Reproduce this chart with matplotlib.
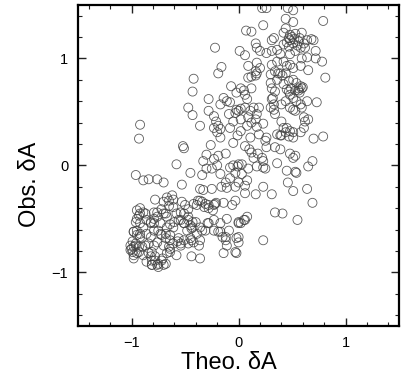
import matplotlib
matplotlib.use("Agg")
import matplotlib.pyplot as plt
from matplotlib.ticker import MultipleLocator

plt.rcParams['font.family'] = ['Liberation Sans', 'DejaVu Sans']

theo = [
 0.22,0.26,0.46,0.51,0.51,0.44,0.23,0.79,0.07,0.12,0.44,0.42,0.48,0.50,0.53,0.59,0.57,0.48,0.51,0.56,
 0.61,0.68,0.70,0.64,0.33,0.31,0.42,0.47,0.53,0.58,0.62,0.72,0.17,0.20,0.16,-0.22,0.01,0.06,0.26,0.31,
 0.36,0.39,0.48,0.59,0.64,0.72,0.78,
 -0.16,-0.19,0.09,0.17,0.20,0.16,0.31,0.36,0.42,0.45,0.48,0.51,0.58,0.65,0.81,-0.42,-0.43,0.09,0.12,0.16,
 0.17,0.30,0.34,0.39,0.44,0.47,0.42,0.51,0.54,0.58,0.59,0.56,-0.07,0.02,0.05,-0.02,0.12,0.30,0.31,0.34,
 0.45,0.48,0.51,0.54,0.64,0.73,0.06,0.08,-0.28,-0.14,-0.11,-0.08,-0.17,-0.47,-0.43,-0.28,-0.02,0.00,0.02,
 -0.03,0.06,0.11,0.14,0.19,0.17,0.09,0.31,0.30,0.33,0.34,0.40,0.44,0.48,0.51,0.53,0.58,0.59,0.61,0.62,
 0.65,-0.36,-0.23,-0.21,-0.19,-0.23,-0.17,-0.09,-0.05,-0.08,0.02,0.08,0.12,0.17,0.23,0.16,0.40,0.42,0.45,
 0.48,0.51,0.44,0.40,-0.92,-0.93,-0.20,-0.17,0.02,-0.01,0.11,0.19,0.26,0.25,0.36,0.39,0.47,0.51,0.58,0.61,
 0.70,0.79,-0.52,-0.51,-0.26,-0.05,0.06,0.10,0.12,0.14,0.18,0.22,0.23,-0.30,-0.23,-0.19,-0.12,0.26,0.34,
 0.39,0.48,0.53,0.51,0.36,-0.58,-0.33,-0.30,-0.25,-0.20,-0.08,-0.05,0.00,-0.01,0.03,0.17,0.23,0.25,0.09,
 0.45,0.53,0.54,0.65,0.69,-0.96,-0.89,-0.84,-0.76,-0.70,-0.45,-0.53,-0.34,-0.17,-0.08,-0.03,0.03,0.08,
 0.23,0.31,0.46,0.51,0.64,-0.36,-0.33,-0.25,-0.12,-0.16,-0.03,0.00,0.06,0.16,-0.78,-0.67,-0.65,-0.62,
 -0.61,-0.53,-0.50,-0.47,-0.51,-0.42,-0.38,-0.34,-0.32,-0.28,-0.23,-0.21,-0.24,-0.14,-0.06,-0.03,0.34,
 0.41,0.55,0.69,-0.95,-0.92,-0.89,-0.95,-0.86,-0.79,-0.76,-0.72,-0.70,-0.67,-0.61,-0.58,-0.54,-0.96,
 -0.95,-0.92,-0.89,-0.82,-0.79,-0.75,-0.67,-0.64,-0.60,-0.54,-0.51,-0.47,-0.45,-0.44,-0.40,-0.36,-0.31,
 -0.28,-0.11,0.00,0.02,0.06,0.08,-0.98,-0.92,-0.86,-0.82,-0.79,-0.72,-0.68,-0.64,-0.61,-0.56,-0.51,-0.45,
 -0.42,-0.36,-0.23,-0.19,-1.01,-1.00,-0.98,-0.96,-0.93,-0.87,-0.84,-0.79,-0.76,-0.70,-0.65,-0.64,-0.54,
 -0.47,-0.44,-0.37,-0.15,-0.12,-0.11,0.00,0.00,0.23,-0.99,-0.95,-0.98,-0.89,-0.84,-0.82,-0.81,-0.78,
 -0.75,-0.72,-0.68,-0.67,-0.58,-0.44,-0.36,-0.14,-0.02,-0.86,-0.81,-0.76,-0.70,
 -0.11,0.06,-0.70,-0.65,-0.92,-0.87,-0.93,-0.79,-0.82,-0.73,-0.68,-0.76,-0.98,-0.95,-0.99,-0.96,-1.01,
 -0.98,-0.17,-0.09,-0.12,-0.17,0.00,0.05,-0.02,-0.03,-0.48,-0.43,-0.39,-0.34,-0.29,-0.23,-0.57,-0.64,
 -0.54,-0.56,-0.51,-0.47,-0.43,-0.36,-0.31,-0.39,-0.28,-0.22,-0.92,-0.90,-0.93,-0.81,-0.78,-0.71,-0.81,
 -0.75,-0.73,-0.68,-0.64,-0.61,
 0.56,0.60,0.57,0.53,0.49,0.47,0.37,0.41,0.36,0.32,0.33,0.47,0.52,0.55,0.45,
]
obs = [
 1.47,1.47,1.47,1.45,1.34,1.37,1.31,1.35,1.26,1.25,1.28,1.24,1.22,1.20,1.23,1.24,1.19,1.17,1.14,1.16,
 1.14,1.18,1.17,1.17,1.19,1.17,1.13,1.11,1.07,1.10,1.10,1.07,1.10,1.07,1.14,1.10,1.07,1.03,1.05,1.07,
 1.08,1.04,1.04,1.00,1.01,1.00,0.97,
 0.92,0.86,0.93,0.96,0.91,0.88,0.94,0.97,0.97,0.93,0.94,0.91,0.93,0.89,0.82,0.81,0.69,0.82,0.83,0.84,
 0.86,0.85,0.88,0.86,0.86,0.79,0.76,0.80,0.77,0.74,0.72,0.70,0.74,0.72,0.70,0.68,0.72,0.77,0.72,0.69,
 0.71,0.66,0.63,0.60,0.60,0.59,0.66,0.62,0.62,0.63,0.60,0.59,0.57,0.54,0.47,0.51,0.52,0.51,0.53,
 0.49,0.54,0.51,0.54,0.54,0.48,0.45,0.62,0.54,0.52,0.48,0.57,0.60,0.54,0.52,0.51,0.57,0.54,0.45,0.41,
 0.43,0.37,0.46,0.41,0.37,0.35,0.34,0.48,0.41,0.35,0.43,0.37,0.40,0.36,0.39,0.43,0.41,0.35,0.35,
 0.32,0.31,0.31,0.28,0.38,0.25,0.31,0.26,0.32,0.28,0.26,0.29,0.26,0.23,0.29,0.28,0.27,0.26,0.31,0.35,
 0.25,0.27,0.18,0.16,0.19,0.21,0.18,0.15,0.12,0.07,0.11,0.07,0.04,0.10,0.06,0.09,0.11,0.17,0.17,
 0.15,0.11,0.09,0.07,0.02,0.01,0.04,-0.03,-0.03,0.00,-0.02,0.00,0.01,-0.01,0.01,-0.01,-0.02,-0.03,-0.03,
 -0.05,-0.06,-0.07,-0.01,0.04,-0.09,-0.14,-0.13,-0.13,-0.16,-0.07,-0.18,-0.09,-0.08,-0.12,-0.07,-0.08,-0.14,
 -0.20,-0.27,-0.16,-0.24,-0.22,-0.22,-0.23,-0.22,-0.16,-0.20,-0.20,-0.16,-0.26,-0.27,-0.32,-0.30,-0.33,-0.28,
 -0.32,-0.34,-0.37,-0.41,-0.45,-0.36,-0.33,-0.34,-0.39,-0.37,-0.37,-0.35,-0.42,-0.35,-0.37,-0.33,-0.44,
 -0.45,-0.51,-0.35,-0.42,-0.45,-0.44,-0.50,-0.51,-0.44,-0.48,-0.41,-0.45,-0.48,-0.39,-0.45,-0.44,-0.53,
 -0.61,-0.54,-0.58,-0.53,-0.54,-0.61,-0.58,-0.55,-0.53,-0.51,-0.54,-0.51,-0.56,-0.59,-0.53,-0.58,-0.61,
 -0.54,-0.50,-0.53,-0.54,-0.51,-0.48,-0.62,-0.64,-0.64,-0.67,-0.61,-0.65,-0.64,-0.70,-0.73,-0.68,-0.70,-0.68,
 -0.72,-0.70,-0.61,-0.62,-0.75,-0.78,-0.76,-0.73,-0.76,-0.75,-0.73,-0.75,-0.72,-0.75,-0.76,-0.81,-0.73,
 -0.73,-0.70,-0.75,-0.67,-0.70,-0.75,-0.67,-0.72,-0.70,-0.81,-0.82,-0.87,-0.84,-0.82,-0.85,-0.89,-0.85,
 -0.92,-0.89,-0.92,-0.82,-0.84,-0.85,-0.87,-0.82,-0.82,-0.90,-0.93,-0.93,-0.93,
 -0.21,-0.19,-0.34,-0.38,-0.40,-0.45,-0.47,-0.50,-0.54,-0.54,-0.45,-0.44,-0.62,-0.65,-0.71,-0.75,-0.79,
 -0.84,-0.54,-0.61,-0.67,-0.62,-0.54,-0.51,-0.68,-0.81,-0.61,-0.58,-0.64,-0.61,-0.54,-0.51,-0.71,-0.78,
 -0.75,-0.51,-0.54,-0.48,-0.53,-0.33,-0.36,-0.37,-0.40,-0.36,-0.67,-0.76,-0.81,-0.81,-0.89,-0.87,-0.93,
 -0.95,-0.64,-0.68,-0.65,-0.58,
 0.72,0.73,0.68,0.70,0.72,0.69,0.86,0.84,0.80,0.63,0.57,1.19,1.18,1.12,1.15,
]

n = min(len(theo), len(obs))
theo = theo[:n]
obs = obs[:n]

fig = plt.figure(figsize=(4.02, 3.78), dpi=100)
ax = fig.add_axes([0.194, 0.138, 0.799, 0.849])
ax.scatter(theo, obs, s=42, facecolors='none', edgecolors='#404040', linewidths=0.6, alpha=0.85)

ax.set_xlim(-1.5, 1.5)
ax.set_ylim(-1.5, 1.5)
ax.xaxis.set_major_locator(MultipleLocator(1))
ax.yaxis.set_major_locator(MultipleLocator(1))
ax.xaxis.set_minor_locator(MultipleLocator(0.2))
ax.yaxis.set_minor_locator(MultipleLocator(0.2))
ax.tick_params(which='both', direction='in', top=True, right=True, color='#222222')
ax.tick_params(which='major', length=6, width=1.0, labelsize=10.5, pad=7)
ax.tick_params(which='minor', length=3, width=0.8)
for sp in ax.spines.values():
    sp.set_linewidth(1.6)

ax.set_xlabel('Theo. δA', fontsize=17)
ax.set_ylabel('Obs. δA', fontsize=17)
ax.xaxis.set_label_coords(0.469, -0.082)
ax.yaxis.set_label_coords(-0.116, 0.44)

fig.savefig('out.png', dpi=100)
print(len(theo), len(obs))
